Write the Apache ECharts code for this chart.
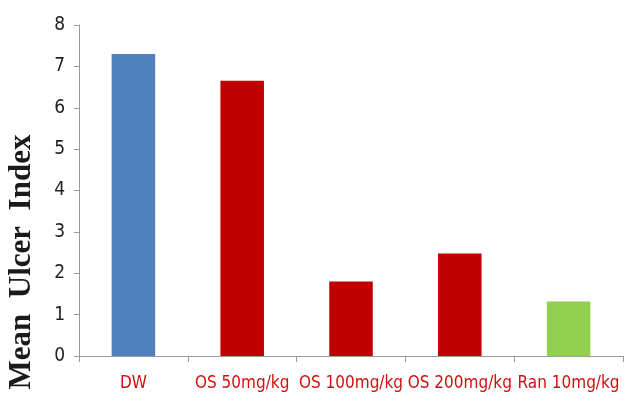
<!DOCTYPE html>
<html><head><meta charset="utf-8">
<script src="https://cdn.jsdelivr.net/npm/echarts@6/dist/echarts.min.js"></script>
<style>html,body{margin:0;padding:0;background:#fff}#c{width:641px;height:410px}</style>
</head><body><div id="c"></div>
<script>
const categories = ["DW", "OS 50mg/kg", "OS 100mg/kg", "OS 200mg/kg", "Ran 10mg/kg"];
const values = [7.3, 6.65, 1.8, 2.48, 1.32];
const barColors = ["#4f81bd", "#c00000", "#c00000", "#c00000", "#92d050"];
const yTicks = [0, 1, 2, 3, 4, 5, 6, 7, 8];
const yTitle = "Mean  Ulcer  Index";
const narrow = "'DejaVu Sans Condensed', 'Liberation Sans Narrow', sans-serif";

const chart = echarts.init(document.getElementById('c'));
chart.setOption({
  animation: false,
  grid: {left: 79, right: 18, top: 25, bottom: 54},
  xAxis: {
    type: 'category', data: categories, boundaryGap: true,
    axisLine: {lineStyle: {color: '#9a9a9a', width: 1}},
    axisTick: {show: true, length: 6, lineStyle: {color: '#9a9a9a'}},
    axisLabel: {color: '#d01010', fontSize: 17, fontFamily: narrow, margin: 19, interval: 0}
  },
  yAxis: {
    type: 'value', min: yTicks[0], max: yTicks[yTicks.length - 1], interval: 1,
    axisLine: {show: true, lineStyle: {color: '#9a9a9a'}},
    axisTick: {show: true, length: 5, lineStyle: {color: '#9a9a9a'}},
    splitLine: {show: false},
    axisLabel: {color: '#222', fontSize: 19, fontFamily: narrow, margin: 14}
  },
  graphic: [{
    type: 'text', x: 22, y: 262, rotation: Math.PI / 2,
    style: {text: yTitle, font: 'bold 31px "Liberation Serif", "DejaVu Serif", serif', fill: '#1a1a1a',
            textAlign: 'center', textVerticalAlign: 'middle'}
  }],
  series: [{
    type: 'bar', barWidth: '40%',
    data: values.map((v, i) => ({value: v, itemStyle: {color: barColors[i]}}))
  }]
});
</script></body></html>
